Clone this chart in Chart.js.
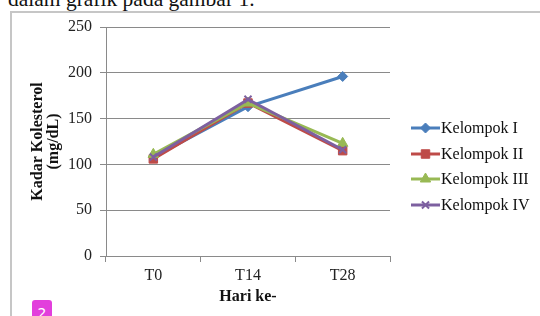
<!DOCTYPE html>
<html lang="id">
  <head>
    <meta charset="UTF-8" />
    <title>Kadar Kolesterol</title>
    <style>
      html,
      body {
        margin: 0;
        padding: 0;
        width: 540px;
        height: 316px;
        overflow: hidden;
        background: #fff;
        font-family: "Liberation Serif", "Times New Roman", serif;
      }
      .lead {
        position: absolute;
        left: 8px;
        top: -11px;
        font-size: 21.5px;
        line-height: 1;
        color: #111;
        white-space: nowrap;
      }
      .frame {
        position: absolute;
        left: 10px;
        top: 11px;
        width: 600px;
        height: 400px;
        border: 2px solid #c6c6c6;
      }
      .chart {
        position: absolute;
        left: 0;
        top: 0;
      }
      .badge {
        position: absolute;
        left: 32px;
        top: 300px;
        width: 20px;
        height: 22px;
        border-radius: 3px;
        background: #e23fdc;
        color: #fff;
        font: 14px "DejaVu Sans", sans-serif;
        text-align: center;
        line-height: 26px;
      }
    </style>
  </head>
  <body>
    <div class="lead">dalam grafik pada gambar 1.</div>
    <div class="frame"></div>
    <canvas class="chart" width="540" height="316"></canvas>
    <div class="badge">2</div>
    <script src="https://cdn.jsdelivr.net/npm/chart.js@4.4.0/dist/chart.umd.min.js"></script>
    <script>
      const days = ["T0", "T14", "T28"];
      const groupNames = ["Kelompok I", "Kelompok II", "Kelompok III", "Kelompok IV"];
      const kelompok1 = [108, 163, 196];
      const kelompok2 = [106, 167, 115];
      const kelompok3 = [111, 167, 123];
      const kelompok4 = [108, 171, 116];
      const yTicks = [0, 50, 100, 150, 200, 250];

      const colors = ["#4a7ebb", "#be4b48", "#98b954", "#7d60a0"];
      const markers = ["rectRot", "rect", "triangle", "crossRot"];
      const markerSizes = [5, 6, 6, 5];
      const values = [kelompok1, kelompok2, kelompok3, kelompok4];

      const datasets = values.map((data, i) => ({
        label: groupNames[i],
        data,
        borderColor: colors[i],
        backgroundColor: colors[i],
        borderWidth: 3,
        pointStyle: markers[i],
        pointRadius: markerSizes[i],
        pointBorderWidth: markers[i] === "crossRot" ? 2 : 1,
        tension: 0,
        order: 3 - i, // later groups drawn on top
      }));

      // Excel-style legend: short line with the marker in its middle
      const sideLegend = {
        id: "sideLegend",
        afterDraw(chart) {
          const ctx = chart.ctx;
          const x0 = 411;
          const x1 = 440;
          const rows = [128, 154, 179, 205];
          ctx.save();
          chart.data.datasets.forEach((ds, i) => {
            const y = rows[i];
            ctx.strokeStyle = ds.borderColor;
            ctx.fillStyle = ds.backgroundColor;
            ctx.lineWidth = 3;
            ctx.beginPath();
            ctx.moveTo(x0, y);
            ctx.lineTo(x1, y);
            ctx.stroke();
            ctx.lineWidth = ds.pointBorderWidth;
            Chart.helpers.drawPoint(ctx, {
              pointStyle: ds.pointStyle,
              radius: ds.pointRadius,
              borderWidth: ds.pointBorderWidth,
              rotation: 0,
            }, (x0 + x1) / 2, y);
            ctx.fillStyle = "#111";
            ctx.font = "16px 'Liberation Serif', serif";
            ctx.textBaseline = "middle";
            ctx.textAlign = "left";
            ctx.fillText(ds.label, x1 + 1, y + 1);
          });
          ctx.restore();
        },
      };

      new Chart(document.querySelector(".chart"), {
        type: "line",
        data: { labels: days, datasets },
        plugins: [sideLegend],
        options: {
          responsive: false,
          animation: false,
          layout: { padding: { top: 27, right: 150, left: 0, bottom: 0 } },
          plugins: { legend: { display: false }, tooltip: { enabled: false } },
          scales: {
            x: {
              offset: true,
              grid: {
                offset: true,
                drawOnChartArea: false,
                drawTicks: true,
                tickLength: 6,
                color: "#8a8a8a",
              },
              border: { color: "#8a8a8a" },
              ticks: {
                color: "#222",
                padding: 4,
                font: { family: "'Liberation Serif', serif", size: 16 },
              },
              title: {
                display: true,
                text: "Hari ke-",
                color: "#111",
                padding: { top: 0, bottom: 10 },
                font: { family: "'Liberation Serif', serif", size: 16, weight: "bold", lineHeight: 1.1 },
              },
              afterFit(scale) {
                scale.height = 60;
              },
            },
            y: {
              min: 0,
              max: 250,
              afterBuildTicks(scale) {
                scale.ticks = yTicks.map((v) => ({ value: v }));
              },
              grid: { color: "#8a8a8a", tickLength: 6 },
              border: { color: "#8a8a8a" },
              ticks: {
                color: "#222",
                padding: 8,
                font: { family: "'Liberation Serif', serif", size: 16 },
              },
              title: {
                display: true,
                text: ["Kadar Kolesterol", "(mg/dL)"],
                color: "#111",
                padding: { top: 30, bottom: 0 },
                font: { family: "'Liberation Serif', serif", size: 16, weight: "bold", lineHeight: 1.0 },
              },
              afterFit(scale) {
                scale.width = 106;
              },
            },
          },
        },
      });
    </script>
  </body>
</html>
